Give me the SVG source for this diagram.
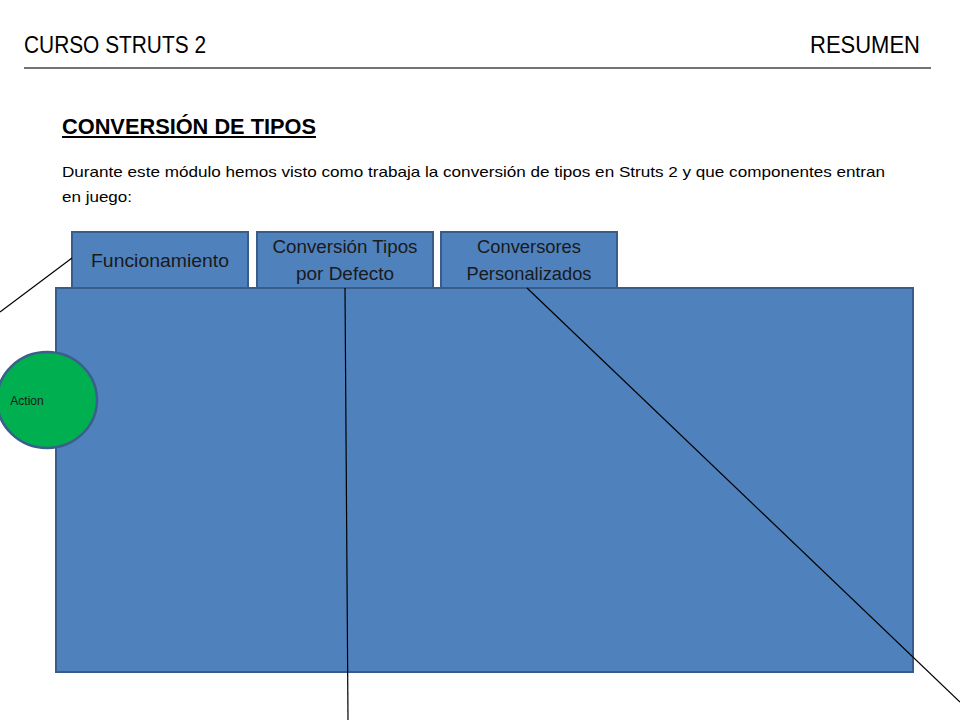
<svg xmlns="http://www.w3.org/2000/svg" width="960" height="720" viewBox="0 0 960 720">
<style>
.box{fill:#4F81BD;stroke:#385D8A;stroke-width:2}
.lbl{font-family:"Liberation Sans",Arial,sans-serif;font-size:18px;fill:#1a1a1a;text-anchor:middle}
.hdr{font-family:"Liberation Sans",Arial,sans-serif;font-size:23px;fill:#000}
.conn{stroke:#000;stroke-width:1.2;fill:none}
</style>
<rect width="960" height="720" fill="#fff"/>
<g id="header">
<text class="hdr" x="24" y="53" textLength="182" lengthAdjust="spacingAndGlyphs">CURSO STRUTS 2</text>
<text class="hdr" x="920" y="53" text-anchor="end" textLength="110" lengthAdjust="spacingAndGlyphs">RESUMEN</text>
<line x1="24" y1="68" x2="931" y2="68" stroke="#444" stroke-width="1.5"/>
</g>
<g id="title">
<text x="62" y="134" font-family="Liberation Sans,Arial,sans-serif" font-size="22" font-weight="bold" textLength="254" lengthAdjust="spacingAndGlyphs">CONVERSIÓN DE TIPOS</text>
<line x1="62" y1="137" x2="316" y2="137" stroke="#000" stroke-width="1.8"/>
<text x="62" y="177" font-family="Liberation Sans,Arial,sans-serif" font-size="15" textLength="823" lengthAdjust="spacingAndGlyphs">Durante este módulo hemos visto como trabaja la conversión de tipos en Struts 2 y que componentes entran</text>
<text x="62" y="202" font-family="Liberation Sans,Arial,sans-serif" font-size="15" textLength="70" lengthAdjust="spacingAndGlyphs">en juego:</text>
</g>
<g id="tab-funcionamiento">
<rect class="box" x="72" y="232" width="176" height="56"/>
<text class="lbl" x="160" y="267" textLength="138" lengthAdjust="spacingAndGlyphs">Funcionamiento</text>
</g>
<g id="tab-conversion">
<rect class="box" x="257" y="232" width="176" height="56"/>
<text class="lbl" x="345" y="253" textLength="145" lengthAdjust="spacingAndGlyphs">Conversión Tipos</text>
<text class="lbl" x="345" y="280" textLength="98" lengthAdjust="spacingAndGlyphs">por Defecto</text>
</g>
<g id="tab-conversores">
<rect class="box" x="441" y="232" width="176" height="56"/>
<text class="lbl" x="529" y="253" textLength="104" lengthAdjust="spacingAndGlyphs">Conversores</text>
<text class="lbl" x="529" y="280" textLength="125" lengthAdjust="spacingAndGlyphs">Personalizados</text>
</g>
<g id="panel">
<rect class="box" x="56" y="288" width="857" height="384"/>
</g>
<g id="action">
<ellipse cx="47" cy="400" rx="50" ry="48" fill="#00B050" stroke="#3A5F8C" stroke-width="2.5"/>
<text x="27" y="405" font-family="Liberation Sans,Arial,sans-serif" font-size="12" fill="#1a1a1a" text-anchor="middle">Action</text>
</g>
<g id="connectors">
<line class="conn" x1="72" y1="258" x2="0" y2="312"/>
<line class="conn" x1="345" y1="288" x2="348" y2="720"/>
<line class="conn" x1="527" y1="288" x2="960" y2="702"/>
</g>
</svg>
